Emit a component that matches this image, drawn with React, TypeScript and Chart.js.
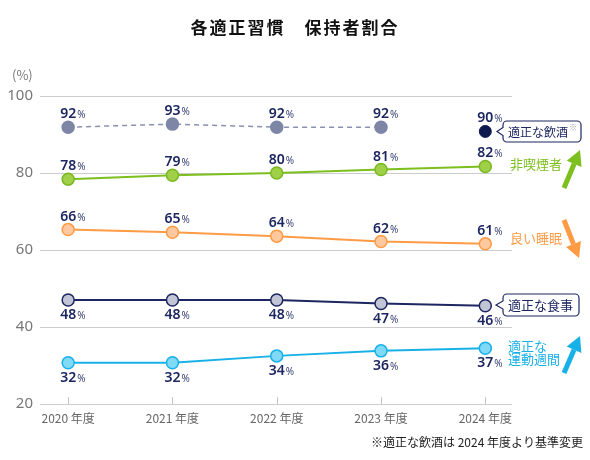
import { useEffect, useRef } from 'react';
import { Chart, registerables } from 'chart.js';

Chart.register(...registerables);

// 年度
const years = ['2020', '2021', '2022', '2023', '2024'];

// 適正な飲酒（2020-2023 旧基準）
const drinkValues = [91.9, 92.7, 91.9, 91.9, null];
const drinkLabels = [92, 93, 92, 92, null];
// 適正な飲酒（2024 新基準）
const drinkNewValues = [null, null, null, null, 90.8];
const drinkNewLabels = [null, null, null, null, 90];
// 非喫煙者
const smokeValues = [78.4, 79.4, 80.0, 80.9, 81.7];
const smokeLabels = [78, 79, 80, 81, 82];
// 良い睡眠
const sleepValues = [65.3, 64.6, 63.6, 62.2, 61.6];
const sleepLabels = [66, 65, 64, 62, 61];
// 適正な食事
const dietValues = [47.0, 47.0, 47.0, 46.1, 45.5];
const dietLabels = [48, 48, 48, 47, 46];
// 適正な運動週間
const exerciseValues = [30.7, 30.7, 32.5, 33.8, 34.5];
const exerciseLabels = [32, 32, 34, 36, 37];

const yTicks = [20, 40, 60, 80, 100];

const NAVY = '#1c2660';
const GREEN = '#7cbf1f';
const ORANGE = '#ff9b45';
const CYAN = '#17b1e8';
const JP = "'Noto Sans CJK JP', 'Noto Sans', sans-serif";

const toPoints = (vals: (number | null)[]) => vals.map((y, i) => ({ x: i, y }));

// 数値ラベル
const valueLabelPlugin = {
  id: 'valueLabels',
  afterDatasetsDraw(chart: any) {
    const ctx = chart.ctx;
    ctx.save();
    chart.data.datasets.forEach((ds: any, i: number) => {
      const meta = chart.getDatasetMeta(i);
      meta.data.forEach((pt: any, j: number) => {
        const label = ds.pctLabels[j];
        if (label == null) return;
        const y = ds.labelBelow ? pt.y + 19 : pt.y - 9;
        ctx.textBaseline = 'alphabetic';
        ctx.font = "600 14px 'Noto Sans', sans-serif";
        const num = String(label);
        const w = ctx.measureText(num).width;
        ctx.fillStyle = NAVY;
        ctx.textAlign = 'left';
        ctx.fillText(num, pt.x - w / 2, y);
        ctx.font = "10px 'Noto Sans', sans-serif";
        ctx.fillStyle = '#3a4274';
        ctx.fillText('%', pt.x + w / 2 + 1, y);
      });
    });
    ctx.restore();
  },
};

const drawArrow = (ctx: CanvasRenderingContext2D, x1: number, y1: number, x2: number, y2: number, color: string) => {
  const ang = Math.atan2(y2 - y1, x2 - x1);
  const headLen = 15;
  const headW = 8;
  const bx = x2 - headLen * Math.cos(ang);
  const by = y2 - headLen * Math.sin(ang);
  ctx.strokeStyle = color;
  ctx.fillStyle = color;
  ctx.lineWidth = 5;
  ctx.lineCap = 'butt';
  ctx.beginPath();
  ctx.moveTo(x1, y1);
  ctx.lineTo(bx, by);
  ctx.stroke();
  ctx.beginPath();
  ctx.moveTo(x2, y2);
  ctx.lineTo(bx + headW * Math.sin(ang), by - headW * Math.cos(ang));
  ctx.lineTo(bx - headW * Math.sin(ang), by + headW * Math.cos(ang));
  ctx.closePath();
  ctx.fill();
};

const drawCallout = (ctx: CanvasRenderingContext2D, x: number, y: number, w: number, h: number, tipX: number) => {
  const r = 4;
  const cy = y + h / 2;
  ctx.beginPath();
  ctx.moveTo(x + r, y);
  ctx.lineTo(x + w - r, y);
  ctx.arcTo(x + w, y, x + w, y + r, r);
  ctx.lineTo(x + w, y + h - r);
  ctx.arcTo(x + w, y + h, x + w - r, y + h, r);
  ctx.lineTo(x + r, y + h);
  ctx.arcTo(x, y + h, x, y + h - r, r);
  ctx.lineTo(x, cy + 4);
  ctx.lineTo(tipX, cy);
  ctx.lineTo(x, cy - 4);
  ctx.lineTo(x, y + r);
  ctx.arcTo(x, y, x + r, y, r);
  ctx.closePath();
  ctx.fillStyle = '#fff';
  ctx.fill();
  ctx.strokeStyle = NAVY;
  ctx.lineWidth = 1.2;
  ctx.stroke();
};

// タイトル・注記・凡例
const decorPlugin = {
  id: 'decor',
  beforeDatasetsDraw(chart: any) {
    const ctx = chart.ctx;
    const xs = chart.scales.x;
    const bottom = chart.chartArea.bottom;
    ctx.save();
    ctx.strokeStyle = '#c4c4c4';
    ctx.lineWidth = 1;
    years.forEach((_, i) => {
      const px = Math.round(xs.getPixelForValue(i)) + 0.5;
      ctx.beginPath();
      ctx.moveTo(px, bottom - 7);
      ctx.lineTo(px, bottom);
      ctx.stroke();
    });
    ctx.restore();
  },
  afterDraw(chart: any) {
    const ctx = chart.ctx;
    ctx.save();
    // title
    ctx.font = `bold 17px ${JP}`;
    ctx.fillStyle = '#111';
    ctx.textAlign = 'center';
    ctx.textBaseline = 'alphabetic';
    (ctx as any).letterSpacing = '2px';
    ctx.fillText('各適正習慣　保持者割合', 295, 34);
    (ctx as any).letterSpacing = '0px';

    // unit
    ctx.font = `13px ${JP}`;
    ctx.fillStyle = '#777';
    ctx.textAlign = 'left';
    ctx.fillText('(%)', 12, 80);

    // footnote
    ctx.font = `12px ${JP}`;
    ctx.fillStyle = '#222';
    ctx.textAlign = 'right';
    ctx.fillText('※適正な飲酒は 2024 年度より基準変更', 583, 447);

    // callouts
    drawCallout(ctx, 503, 121, 78, 21, 497);
    ctx.textAlign = 'left';
    ctx.textBaseline = 'middle';
    ctx.font = `12px ${JP}`;
    ctx.fillStyle = NAVY;
    ctx.fillText('適正な飲酒', 508, 132);
    ctx.font = `8px ${JP}`;
    ctx.fillStyle = '#999';
    ctx.fillText('※', 569, 127);

    drawCallout(ctx, 503, 294, 76, 22, 496);
    ctx.font = `13px ${JP}`;
    ctx.fillStyle = NAVY;
    ctx.fillText('適正な食事', 508, 305);

    ctx.fillStyle = GREEN;
    ctx.fillText('非喫煙者', 510, 164);
    ctx.fillStyle = ORANGE;
    ctx.fillText('良い睡眠', 510, 238);
    ctx.fillStyle = CYAN;
    ctx.fillText('適正な', 508, 346);
    ctx.fillText('運動週間', 508, 359);

    drawArrow(ctx, 564, 188, 580, 150, GREEN);
    drawArrow(ctx, 564, 220, 579, 258, ORANGE);
    drawArrow(ctx, 564, 373, 580, 336, CYAN);
    ctx.restore();
  },
};

const App = () => {
  const canvasRef = useRef<HTMLCanvasElement | null>(null);
  const chartRef = useRef<Chart | null>(null);

  useEffect(() => {
    document.body.style.margin = '0';
    if (!canvasRef.current) return;
    const ctx = canvasRef.current.getContext('2d');
    if (!ctx) return;
    if (chartRef.current) chartRef.current.destroy();

    const config: any = {
      type: 'line',
      data: {
        datasets: [
          {
            label: '適正な飲酒',
            data: toPoints(drinkValues),
            pctLabels: drinkLabels,
            borderColor: '#8a90b0',
            borderDash: [5, 4],
            borderWidth: 1.5,
            pointBackgroundColor: '#7e86a6',
            pointBorderColor: '#7e86a6',
            pointRadius: 6,
            spanGaps: false,
          },
          {
            label: '適正な飲酒（新基準）',
            data: toPoints(drinkNewValues),
            pctLabels: drinkNewLabels,
            showLine: false,
            pointBackgroundColor: '#0d1a4e',
            pointBorderColor: '#0d1a4e',
            pointRadius: 6,
          },
          {
            label: '非喫煙者',
            data: toPoints(smokeValues),
            pctLabels: smokeLabels,
            borderColor: GREEN,
            borderWidth: 2,
            pointBackgroundColor: '#9fd048',
            pointBorderColor: '#7ab822',
            pointBorderWidth: 1.5,
            pointRadius: 6,
          },
          {
            label: '良い睡眠',
            data: toPoints(sleepValues),
            pctLabels: sleepLabels,
            borderColor: ORANGE,
            borderWidth: 2,
            pointBackgroundColor: '#ffc89f',
            pointBorderColor: ORANGE,
            pointBorderWidth: 1.5,
            pointRadius: 6,
          },
          {
            label: '適正な食事',
            data: toPoints(dietValues),
            pctLabels: dietLabels,
            labelBelow: true,
            borderColor: NAVY,
            borderWidth: 2,
            pointBackgroundColor: '#c2c5d6',
            pointBorderColor: NAVY,
            pointBorderWidth: 1.5,
            pointRadius: 6,
          },
          {
            label: '適正な運動週間',
            data: toPoints(exerciseValues),
            pctLabels: exerciseLabels,
            labelBelow: true,
            borderColor: CYAN,
            borderWidth: 2,
            pointBackgroundColor: '#80d9f7',
            pointBorderColor: CYAN,
            pointBorderWidth: 1.5,
            pointRadius: 6,
          },
        ],
      },
      options: {
        responsive: true,
        maintainAspectRatio: false,
        animation: false,
        layout: { padding: { top: 96, right: 78, left: 0, bottom: 0 } },
        plugins: {
          legend: { display: false },
          title: { display: false },
          tooltip: { enabled: false },
        },
        scales: {
          x: {
            type: 'linear',
            min: -0.27,
            max: 4.256,
            afterFit: (s: any) => { s.height = 56; },
            afterBuildTicks: (s: any) => { s.ticks = years.map((_, i) => ({ value: i })); },
            grid: { display: false, drawTicks: false },
            border: { display: false },
            ticks: {
              padding: 7,
              autoSkip: false,
              maxRotation: 0,
              color: '#666',
              font: { family: JP, size: 12 },
              callback: (v: number) => `${years[v]} 年度`,
            },
          },
          y: {
            min: 20,
            max: 100,
            afterFit: (s: any) => { s.width = 40; },
            afterBuildTicks: (s: any) => { s.ticks = yTicks.map((v) => ({ value: v })); },
            grid: { color: '#cccccc', lineWidth: 1, drawTicks: false },
            border: { display: false },
            ticks: {
              padding: 7,
              color: '#777',
              font: { family: "'Noto Sans', sans-serif", size: 15 },
            },
          },
        },
      },
      plugins: [decorPlugin, valueLabelPlugin],
    };

    chartRef.current = new Chart(ctx, config);
    return () => {
      if (chartRef.current) {
        chartRef.current.destroy();
        chartRef.current = null;
      }
    };
  }, []);

  return (
    <div style={{ width: 590, height: 460, position: 'relative', background: '#fff' }}>
      <canvas ref={canvasRef} />
    </div>
  );
};

export default App;
